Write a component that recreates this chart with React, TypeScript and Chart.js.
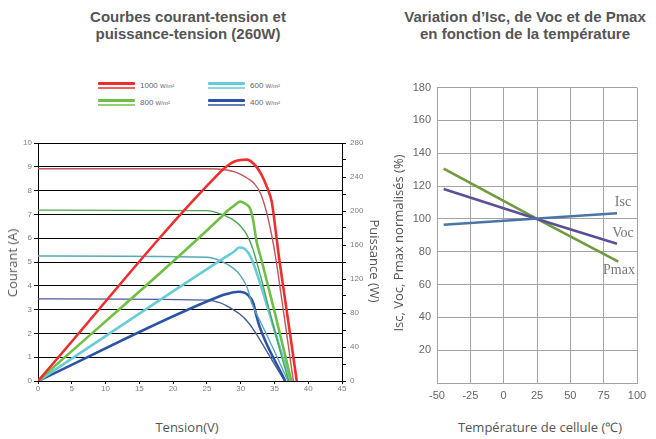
import React, { useEffect, useRef } from 'react';
import { Chart, registerables } from 'chart.js';
Chart.register(...registerables);

// ---------- Left chart: I-V and P-V curves ----------
const voltTickStep = 5;
const currentTickStep = 1;
const powerTickStep = 20;

// I-V curves (current in A) – thin lines
const iv1000V = [0, 25, 27, 29, 30, 31, 32, 33, 34, 35, 36, 37, 37.8];
const iv1000I = [8.92, 8.92, 8.9, 8.8, 8.68, 8.52, 8.3, 7.85, 6.9, 5.5, 3.6, 1.6, 0];
const iv800V = [0, 25, 27, 29, 30, 31, 31.8, 33, 34, 35, 36, 37.1];
const iv800I = [7.18, 7.16, 7.02, 6.75, 6.5, 6.1, 5.55, 4.35, 3.25, 2.15, 1.1, 0];
const iv600V = [0, 25, 27, 29, 30, 31, 31.6, 33, 35, 37];
const iv600I = [5.25, 5.2, 5.05, 4.72, 4.42, 3.9, 3.3, 2.45, 1.25, 0];
const iv400V = [0, 25, 27, 29, 30, 31, 32, 34, 36.5];
const iv400I = [3.45, 3.4, 3.28, 2.98, 2.78, 2.5, 2.12, 1.18, 0];

// P-V curves (power in W) – thick lines
const pv1000V = [0, 27, 28, 29, 30, 30.9, 32, 33, 34, 34.6, 35.1, 35.6, 36.5, 37.5, 38.3];
const pv1000P = [0, 246, 253, 258, 260, 260.5, 255, 244, 226, 211, 182, 150, 100, 45, 0];
const pv800V = [0, 27, 28, 29, 29.9, 30.8, 31.4, 31.9, 32.35, 33, 35, 37.5];
const pv800P = [0, 192, 200, 206, 211, 208, 203, 187, 164, 145, 82, 0];
const pv600V = [0, 27, 28, 29, 29.8, 30.5, 31.2, 31.9, 33, 35, 37.3];
const pv600P = [0, 142, 147, 152, 157, 156, 150, 138, 112, 60, 0];
const pv400V = [0, 27, 28, 29, 29.7, 30.5, 31.1, 31.9, 32.2, 32.8, 36.6];
const pv400P = [0, 100, 102.5, 104.5, 105, 104, 101, 91, 81, 64, 0];

const irradiances = ['1000', '800', '600', '400'];
const thickColors = ['#ee2e2e', '#6fbf45', '#66ccd8', '#2c52a6'];
const thinColors = ['#c2545a', '#4fa453', '#57a8b8', '#4a5c94'];

// ---------- Right chart: temperature dependence ----------
const tempTicks = [-50, -25, 0, 25, 50, 75, 100];
const iscT = [-45, 85];
const iscV = [96.4, 103.4];
const vocT = [-45, 25, 85];
const vocV = [118.2, 100, 84.8];
const pmaxT = [-45, 25, 86];
const pmaxV = [130.6, 100, 74];

const zip = (xs: number[], ys: number[]) => xs.map((x, i) => ({ x, y: ys[i] }));

const tickFont = { family: 'Liberation Sans, Arial, sans-serif', size: 8 };

function LeftChart() {
  const ref = useRef<HTMLCanvasElement>(null);
  useEffect(() => {
    const ivSets = [zip(iv1000V, iv1000I), zip(iv800V, iv800I), zip(iv600V, iv600I), zip(iv400V, iv400I)];
    const pvSets = [zip(pv1000V, pv1000P), zip(pv800V, pv800P), zip(pv600V, pv600P), zip(pv400V, pv400P)];
    const datasets: any[] = [];
    irradiances.forEach((irr, i) => {
      datasets.push({
        label: irr + ' P',
        data: pvSets[i],
        yAxisID: 'y2',
        borderColor: thickColors[i],
        borderWidth: 2.6,
        pointRadius: 0,
        cubicInterpolationMode: 'monotone',
        fill: false,
      });
      datasets.push({
        label: irr + ' I',
        data: ivSets[i],
        yAxisID: 'y',
        borderColor: thinColors[i],
        borderWidth: 1.4,
        pointRadius: 0,
        cubicInterpolationMode: 'monotone',
        fill: false,
      });
    });
    const chart = new Chart(ref.current!, {
      type: 'line',
      data: { datasets },
      options: {
        animation: false,
        responsive: false,
        layout: { padding: { top: 10, left: 0, right: 0, bottom: 0 } },
        plugins: { legend: { display: false }, tooltip: { enabled: false } },
        scales: {
          x: {
            type: 'linear',
            min: 0,
            max: 45,
            ticks: { stepSize: voltTickStep, font: tickFont, color: '#808080', padding: 0, maxRotation: 0, autoSkip: false },
            grid: { drawOnChartArea: false, color: '#000', tickLength: 3 },
            border: { color: '#000' },
            afterFit: (s: any) => { s.height = 14; },
          },
          y: {
            type: 'linear',
            position: 'left',
            min: 0,
            max: 10,
            ticks: { stepSize: currentTickStep, font: tickFont, color: '#808080', padding: 2 },
            grid: { color: '#000', tickLength: 4, lineWidth: 1 },
            border: { color: '#000' },
            afterFit: (s: any) => { s.width = 38; },
          },
          y2: {
            type: 'linear',
            position: 'right',
            min: 0,
            max: 280,
            ticks: {
              stepSize: powerTickStep,
              font: tickFont,
              color: '#808080',
              padding: 4,
              callback: (v: any) => (Number(v) % 40 === 0 ? String(v) : ''),
            },
            grid: { drawOnChartArea: false, color: '#000', tickLength: 4 },
            border: { color: '#000' },
            afterFit: (s: any) => { s.width = 48; },
          },
        },
      },
    } as any);
    return () => chart.destroy();
  }, []);
  return (
    <canvas
      ref={ref}
      width={390}
      height={262}
      style={{ position: 'absolute', left: 0, top: 133, width: 390, height: 262 }}
    />
  );
}

function RightChart() {
  const ref = useRef<HTMLCanvasElement>(null);
  useEffect(() => {
    const grid = '#a3a3a3';
    const chart = new Chart(ref.current!, {
      type: 'line',
      data: {
        datasets: [
          { label: 'Isc', data: zip(iscT, iscV), borderColor: '#4a74a8', borderWidth: 2.6, pointRadius: 0, fill: false },
          { label: 'Voc', data: zip(vocT, vocV), borderColor: '#5b4f98', borderWidth: 2.6, pointRadius: 0, fill: false },
          { label: 'Pmax', data: zip(pmaxT, pmaxV), borderColor: '#6f9a3e', borderWidth: 2.6, pointRadius: 0, fill: false },
        ],
      },
      options: {
        animation: false,
        responsive: false,
        layout: { padding: { top: 8, right: 19, left: 0, bottom: 0 } },
        plugins: { legend: { display: false }, tooltip: { enabled: false } },
        scales: {
          x: {
            type: 'linear',
            min: tempTicks[0],
            max: tempTicks[tempTicks.length - 1],
            afterBuildTicks: (s: any) => { s.ticks = tempTicks.map((v) => ({ value: v })); },
            ticks: { font: { family: 'Liberation Sans, Arial, sans-serif', size: 11 }, color: '#666', padding: 6, maxRotation: 0, autoSkip: false },
            grid: { color: grid, drawTicks: false },
            border: { color: grid },
            afterFit: (s: any) => { s.height = 17; },
          },
          y: {
            type: 'linear',
            min: 0,
            max: 180,
            ticks: {
              stepSize: 20,
              font: { family: 'Liberation Sans, Arial, sans-serif', size: 11 },
              color: '#666',
              padding: 6,
              callback: (v: any) => (Number(v) === 0 ? '' : String(v)),
            },
            grid: { color: grid, drawTicks: false },
            border: { color: grid },
            afterFit: (s: any) => { s.width = 37; },
          },
        },
      },
    } as any);
    return () => chart.destroy();
  }, []);
  return (
    <canvas
      ref={ref}
      width={256}
      height={325}
      style={{ position: 'absolute', left: 400, top: 75, width: 256, height: 325 }}
    />
  );
}

function Label(props: { x: number; y: number; rot?: number; style?: React.CSSProperties; children: React.ReactNode }) {
  return (
    <div
      style={{
        position: 'absolute',
        left: props.x,
        top: props.y,
        transform: `translate(-50%, -50%) rotate(${props.rot || 0}deg)`,
        whiteSpace: 'nowrap',
        ...props.style,
      }}
    >
      {props.children}
    </div>
  );
}

function LegendItem(props: { x: number; y: number; i: number }) {
  const { x, y, i } = props;
  return (
    <>
      <div style={{ position: 'absolute', left: x, top: y - 3, width: 37, height: 3, background: thickColors[i], borderRadius: 1 }} />
      <div style={{ position: 'absolute', left: x, top: y + 2, width: 37, height: 1.5, background: thickColors[i], opacity: 0.75 }} />
      <div
        style={{
          position: 'absolute',
          left: x + 42,
          top: y - 4,
          fontFamily: 'Liberation Sans, Arial, sans-serif',
          fontSize: 8,
          color: '#666',
          lineHeight: '10px',
          whiteSpace: 'nowrap',
        }}
      >
        {irradiances[i]} <span style={{ fontSize: 6 }}>W/m²</span>
      </div>
    </>
  );
}

const titleStyle: React.CSSProperties = {
  position: 'absolute',
  width: 320,
  textAlign: 'center',
  fontFamily: 'Liberation Sans, Arial, sans-serif',
  fontWeight: 'bold',
  fontSize: 15,
  lineHeight: '17px',
  color: '#555',
};

const axisTitle: React.CSSProperties = {
  fontFamily: '"Open Sans", sans-serif',
  fontSize: 13,
  color: '#555',
};

const seriesLabel: React.CSSProperties = {
  fontFamily: '"Liberation Serif", serif',
  fontSize: 14,
  color: '#777',
};

export default function App() {
  return (
    <div style={{ position: 'fixed', left: 0, top: 0, width: 656, height: 439, background: '#fff', overflow: 'hidden' }}>
      <div style={{ ...titleStyle, left: 28, top: 8 }}>
        Courbes courant-tension et
        <br />
        puissance-tension (260W)
      </div>
      <div style={{ ...titleStyle, left: 365, top: 8 }}>
        Variation d’Isc, de Voc et de Pmax
        <br />
        en fonction de la température
      </div>

      <LegendItem x={98} y={85} i={0} />
      <LegendItem x={208} y={85} i={2} />
      <LegendItem x={98} y={102} i={1} />
      <LegendItem x={208} y={102} i={3} />

      <LeftChart />
      <RightChart />

      <Label x={12} y={263} rot={-90} style={axisTitle}>Courant (A)</Label>
      <Label x={375} y={261} rot={90} style={axisTitle}>Puissance (W)</Label>
      <Label x={187} y={427} style={axisTitle}>Tension(V)</Label>
      <Label x={398} y={243} rot={-90} style={axisTitle}>Isc, Voc, Pmax normalisés (%)</Label>
      <Label x={540} y={427} style={axisTitle}>Température de cellule (℃)</Label>

      <Label x={623} y={202} style={seriesLabel}>Isc</Label>
      <Label x={623} y={233} style={seriesLabel}>Voc</Label>
      <Label x={619} y={270} style={seriesLabel}>Pmax</Label>
    </div>
  );
}
